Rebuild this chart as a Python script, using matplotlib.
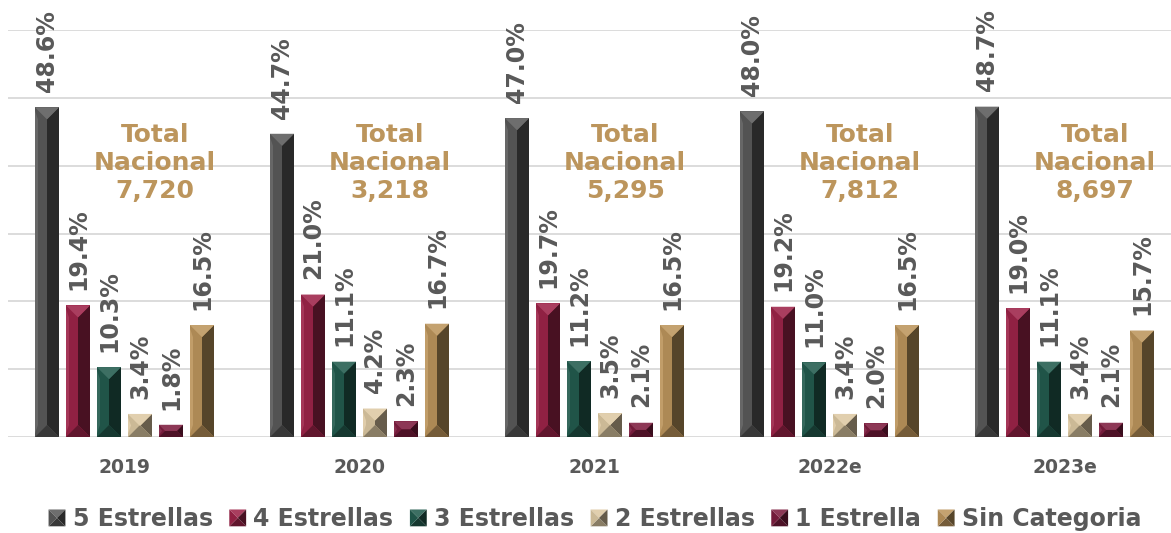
import numpy as np
import matplotlib.pyplot as plt
from matplotlib.patches import Polygon, Rectangle
from matplotlib.legend_handler import HandlerBase
from matplotlib.colors import to_rgb

# Data
years = ['2019', '2020', '2021', '2022e', '2023e']
categories = ['5 Estrellas', '4 Estrellas', '3 Estrellas', '2 Estrellas', '1 Estrella', 'Sin Categoria']
cinco = [48.6, 44.7, 47.0, 48.0, 48.7]
cuatro = [19.4, 21.0, 19.7, 19.2, 19.0]
tres = [10.3, 11.1, 11.2, 11.0, 11.1]
dos = [3.4, 4.2, 3.5, 3.4, 3.4]
una = [1.8, 2.3, 2.1, 2.0, 2.1]
sin_cat = [16.5, 16.7, 16.5, 16.5, 15.7]
totales = ['7,720', '3,218', '5,295', '7,812', '8,697']

series = [cinco, cuatro, tres, dos, una, sin_cat]
colors = ['#5a5a5a', '#9D2449', '#235B4E', '#DDC9A3', '#7d1d3f', '#BC955C']
gray_txt = '#595959'
gold = '#BC955C'


def shade(c, f):
    c = np.array(to_rgb(c))
    if f < 1:
        return tuple(c * f)
    return tuple(c + (1 - c) * (f - 1))


def bevel_faces(x0, y0, x1, y1, ddx, ddy):
    ix0, ix1 = x0 + ddx, x1 - ddx
    iy0, iy1 = y0 + ddy, y1 - ddy
    top = [(x0, y1), (x1, y1), (ix1, iy1), (ix0, iy1)]
    bottom = [(x0, y0), (x1, y0), (ix1, iy0), (ix0, iy0)]
    left = [(x0, y0), (x0, y1), (ix0, iy1), (ix0, iy0)]
    right = [(x1, y0), (x1, y1), (ix1, iy1), (ix1, iy0)]
    return top, bottom, left, right


def face_colors(c):
    return shade(c, 1.12), shade(c, 0.62), shade(c, 0.92), shade(c, 0.46)


W, H = 1171, 533
fig = plt.figure(figsize=(W / 100, H / 100), dpi=100)
ax_l, ax_r, ax_b, ax_t = 8, 1171, 96, 503
ax = fig.add_axes([ax_l / W, ax_b / H, (ax_r - ax_l) / W, (ax_t - ax_b) / H])

x_lo, x_hi = (ax_l - 124.5) / 235, (ax_r - 124.5) / 235
ax.set_xlim(x_lo, x_hi)
ax.set_ylim(0, 60)
dx = (x_hi - x_lo) / (ax_r - ax_l)
dy = 60 / (ax_t - ax_b)

x = np.arange(len(years))
step = 31 * dx
width = 24 * dx

for k, (vals, col) in enumerate(zip(series, colors)):
    bars = ax.bar(x + (k - 2.5) * step, vals, width, color=col, zorder=2, linewidth=0)
    ft, fb, fl, fr = face_colors(col)
    for rect, v in zip(bars, vals):
        x0 = rect.get_x()
        x1 = x0 + rect.get_width()
        h = rect.get_height()
        d_px = min(rect.get_width() / dx, h / dy) / 2
        top, bottom, left, right = bevel_faces(x0, 0, x1, h, d_px * dx, d_px * dy)
        for poly, fc in [(left, fl), (right, fr), (bottom, fb), (top, ft)]:
            ax.add_patch(Polygon(poly, closed=True, facecolor=fc, edgecolor='none', zorder=3))
        # thin highlight along left edge
        ax.add_patch(Polygon([(x0, d_px * dy * 0.3), (x0, h - d_px * dy * 0.3),
                              (x0 + 3 * dx, h - d_px * dy), (x0 + 3 * dx, d_px * dy)],
                             closed=True, facecolor=shade(col, 1.08), edgecolor='none', zorder=3.5))
        ax.annotate(f'{v:.1f}%', (rect.get_x() + rect.get_width() / 2, h), xytext=(0, 11),
                    textcoords='offset points', rotation=90, ha='center', va='bottom',
                    fontsize=17, fontweight='bold', color=gray_txt, annotation_clip=False)

for i, t in enumerate(totales):
    ax.text(i + 0.13, 40.4, f'Total\nNacional\n{t}', ha='center', va='center',
            fontsize=18, fontweight='bold', color=gold, linespacing=1.2, zorder=4)

ax.set_yticks(np.arange(0, 61, 10))
ax.yaxis.grid(True, color='#d9d9d9', linewidth=1.3, zorder=0)
ax.set_axisbelow(True)
ax.tick_params(axis='y', left=False, labelleft=False)
ax.set_xticks(x)
ax.set_xticklabels(years, fontsize=13.5, fontweight='bold', color=gray_txt)
ax.tick_params(axis='x', length=0, pad=15)
for s in ax.spines.values():
    s.set_visible(False)


class BevelHandler(HandlerBase):
    def create_artists(self, legend, orig_handle, xdescent, ydescent, width, height, fontsize, trans):
        col = orig_handle.get_facecolor()
        s = height
        x0 = -xdescent + (width - s) / 2
        y0 = -ydescent
        xc, yc = x0 + s / 2, y0 + s / 2
        ft, fb, fl, fr = face_colors(col)
        polys = [
            ([(x0, y0 + s), (x0 + s, y0 + s), (xc, yc)], ft),
            ([(x0, y0), (x0 + s, y0), (xc, yc)], fb),
            ([(x0, y0), (x0, y0 + s), (xc, yc)], fl),
            ([(x0 + s, y0), (x0 + s, y0 + s), (xc, yc)], fr),
        ]
        return [Polygon(p, closed=True, facecolor=c, edgecolor='none', transform=trans) for p, c in polys]


handles = [Rectangle((0, 0), 1, 1, facecolor=c) for c in colors]
fig.legend(handles, categories, loc='center', bbox_to_anchor=(0.508, 0.026), ncol=6,
           frameon=False, handler_map={Rectangle: BevelHandler()},
           handlelength=0.72, handleheight=0.72, handletextpad=0.3, columnspacing=0.7,
           prop={'size': 17, 'weight': 'bold'}, labelcolor=gray_txt)

fig.savefig('out.png', dpi=100)
